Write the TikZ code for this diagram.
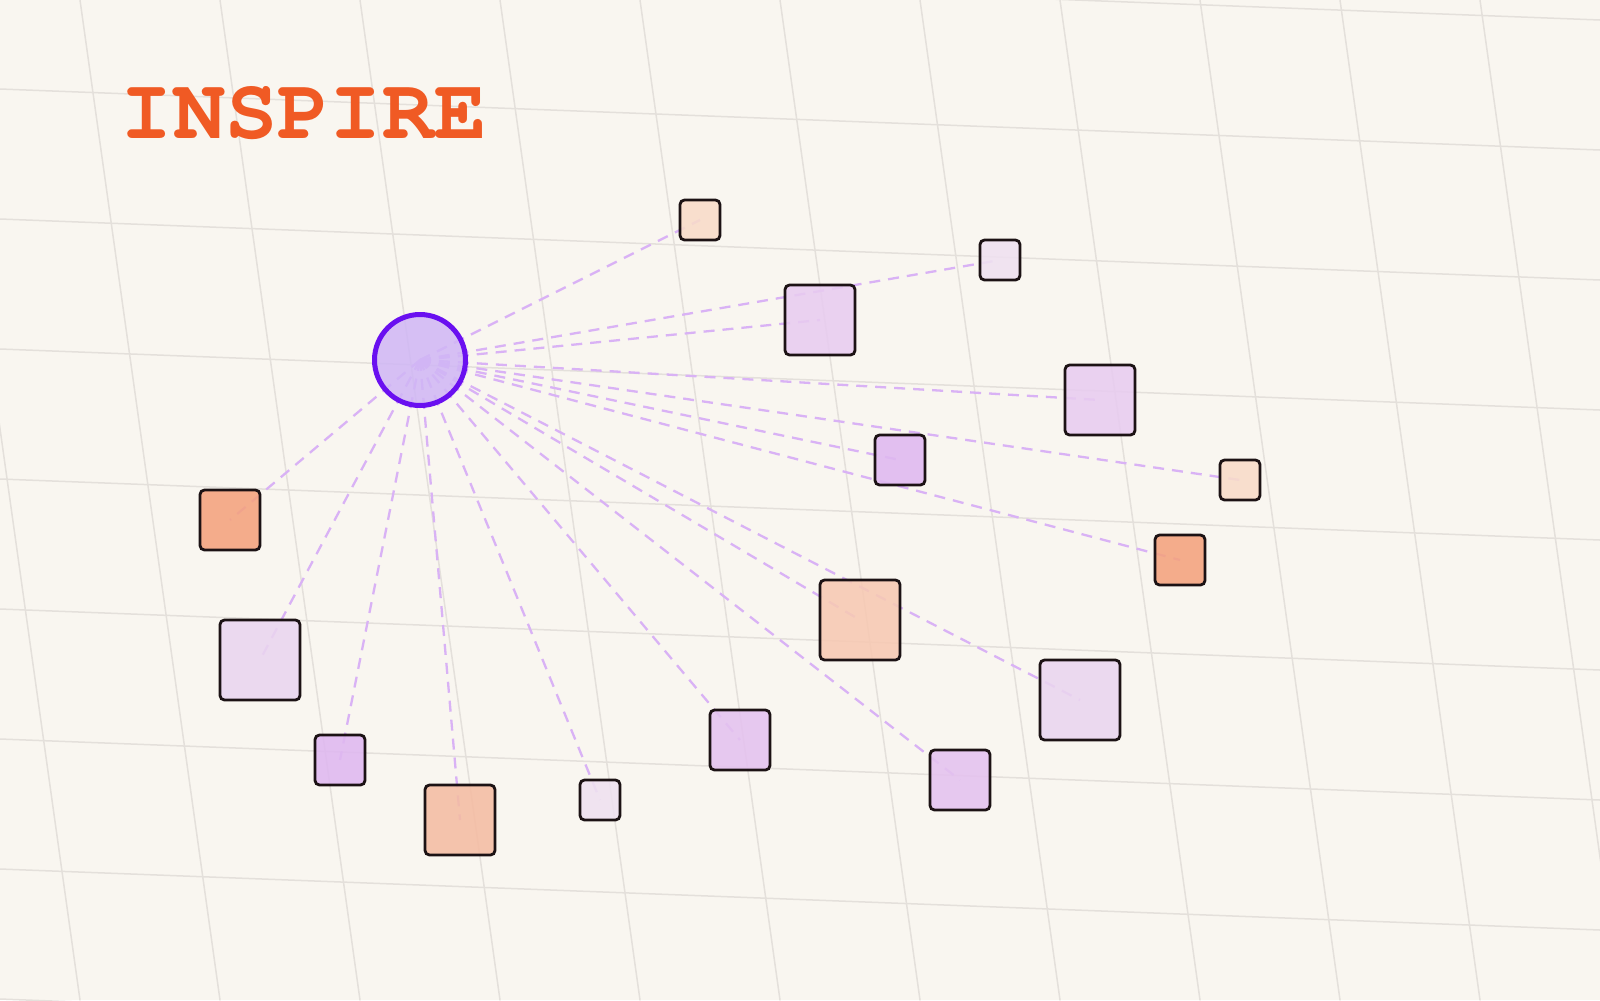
\documentclass[tikz,border=0pt]{standalone}
\usepackage[T1]{fontenc}

\definecolor{paper}{HTML}{F9F6F0}
\definecolor{gridline}{HTML}{E4E0DB}
\definecolor{titleorange}{HTML}{F05A24}
\definecolor{hubedge}{HTML}{6A10F0}
\definecolor{hubfill}{HTML}{D0B6F5}
\definecolor{linkcolor}{HTML}{D9B2F5}
\definecolor{tileedge}{HTML}{1C1214}
\definecolor{peachpale}{HTML}{F8DBC9}
\definecolor{peachmid}{HTML}{F7C9B3}
\definecolor{peachdeep}{HTML}{F4BCA3}
\definecolor{salmon}{HTML}{F4A27E}
\definecolor{lilacpale}{HTML}{EFE1F0}
\definecolor{lilaclight}{HTML}{EAD5EF}
\definecolor{lilac}{HTML}{E8CCF0}
\definecolor{lilacmid}{HTML}{E4C2EF}
\definecolor{lilacdeep}{HTML}{DFB8F0}

\begin{document}
\begin{tikzpicture}[%
        x = 0.1mm,
        y = -0.1mm,
        line cap = round,
        tile/.style = {%
            draw = tileedge,
            line width = 0.28mm,
            rounded corners = 0.45mm,
            fill opacity = 0.88,
            minimum size = #1,
            inner sep = 0pt
        },
        link/.style = {%
            draw = linkcolor,
            line width = 0.23mm,
            line cap = butt,
            dash pattern = on 1.1mm off 0.8mm
        }
    ]

        % Paper and the slanted grid behind everything.
        \fill[paper] (0, 0) rectangle (1600, 1000);
        \useasboundingbox (0, 0) rectangle (1600, 1000);
        \begin{scope}[draw = gridline, line width = 0.15mm]
            \clip (0, 0) rectangle (1600, 1000);
            \foreach \i in {-1,...,11}
                \draw ({80+140*(\i)}, 0) -- ({220+140*(\i)}, 1000);
            \foreach \j in {-1,...,7}
                \draw (0, {89+130*(\j)}) -- (1600, {150+130*(\j)});
        \end{scope}

        % coordinates
        \coordinate (H) at (420, 360); % Hub.
        \coordinate (A) at (700, 220); % Small peach, top.
        \coordinate (B) at (1000, 260); % Small pale lilac, top right.
        \coordinate (C) at (820, 320); % Large lilac.
        \coordinate (D) at (1100, 400); % Large lilac, right.
        \coordinate (E) at (900, 460); % Medium deep lilac.
        \coordinate (F) at (1240, 480); % Small peach, far right.
        \coordinate (G) at (1180, 560); % Medium salmon.
        \coordinate (I) at (230, 520); % Salmon, left.
        \coordinate (J) at (860, 620); % Big peach, centre.
        \coordinate (K) at (1080, 700); % Big light lilac, right.
        \coordinate (L) at (260, 660); % Big light lilac, left.
        \coordinate (M) at (340, 760); % Medium deep lilac, bottom left.
        \coordinate (N) at (460, 820); % Large peach, bottom.
        \coordinate (P) at (600, 800); % Small pale lilac, bottom.
        \coordinate (Q) at (740, 740); % Lilac, bottom middle.
        \coordinate (R) at (960, 780); % Lilac, bottom right.

        % Dashed links from the hub to every tile.
        \draw[link] (H) to (A);
        \draw[link] (H) to (B);
        \draw[link] (H) to (C);
        \draw[link] (H) to (D);
        \draw[link] (H) to (E);
        \draw[link] (H) to (F);
        \draw[link] (H) to (G);
        \draw[link] (H) to (I);
        \draw[link] (H) to (J);
        \draw[link] (H) to (K);
        \draw[link] (H) to (L);
        \draw[link] (H) to (M);
        \draw[link] (H) to (N);
        \draw[link] (H) to (P);
        \draw[link] (H) to (Q);
        \draw[link] (H) to (R);

        % Tiles.
        \node[tile = 4mm, fill = peachpale] (tileA) at (A) {};
        \node[tile = 4mm, fill = lilacpale] (tileB) at (B) {};
        \node[tile = 7mm, fill = lilac] (tileC) at (C) {};
        \node[tile = 7mm, fill = lilac] (tileD) at (D) {};
        \node[tile = 5mm, fill = lilacdeep] (tileE) at (E) {};
        \node[tile = 4mm, fill = peachpale] (tileF) at (F) {};
        \node[tile = 5mm, fill = salmon] (tileG) at (G) {};
        \node[tile = 6mm, fill = salmon] (tileI) at (I) {};
        \node[tile = 8mm, fill = peachmid] (tileJ) at (J) {};
        \node[tile = 8mm, fill = lilaclight] (tileK) at (K) {};
        \node[tile = 8mm, fill = lilaclight] (tileL) at (L) {};
        \node[tile = 5mm, fill = lilacdeep] (tileM) at (M) {};
        \node[tile = 7mm, fill = peachdeep] (tileN) at (N) {};
        \node[tile = 4mm, fill = lilacpale] (tileP) at (P) {};
        \node[tile = 6mm, fill = lilacmid] (tileQ) at (Q) {};
        \node[tile = 6mm, fill = lilacmid] (tileR) at (R) {};

        % Hub circle.
        \node[%
            circle,
            draw = hubedge,
            line width = 0.5mm,
            fill = hubfill,
            fill opacity = 0.85,
            minimum size = 9.1mm,
            inner sep = 0pt
        ] (hub) at (H) {};

        % Title.
        \node[%
            anchor = base west,
            inner sep = 0pt,
            text = titleorange,
            font = \fontfamily{pcr}\fontseries{b}\fontsize{24.8pt}{24.8pt}\selectfont
        ] (title) at (120, 138) {INSPIRE};
    \end{tikzpicture}
\end{document}
